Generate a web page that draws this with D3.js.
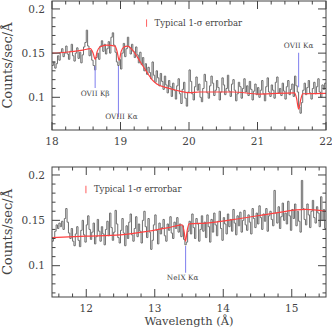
<!DOCTYPE html>
<meta charset="utf-8">
<style>
  body { margin: 0; background: #fff; }
  svg text { font-family: "DejaVu Serif", serif; fill: #444; }
  .frame { fill: none; stroke: #444; stroke-width: 1; }
  .tick { stroke: #444; stroke-width: 1; }
  .data { fill: none; stroke: #6e6e6e; stroke-width: 1; }
  .model { fill: none; stroke: #ff4040; stroke-width: 1.2; }
  .line-id { stroke: #8a8af0; stroke-width: 1.1; }
  .errbar { stroke: #ff6b6b; stroke-width: 1.1; }
</style>
<svg width="332" height="332"></svg>
<script src="https://d3js.org/d3.v7.min.js"></script>
<script>

// ---- top panel: 18-22 A, 0.02 A bins ----
var topStart = 18.0, topBin = 0.02;
var topCounts = [
  0.136, 0.140, 0.133, 0.138, 0.147, 0.142, 0.151, 0.155, 0.146, 0.150,
  0.158, 0.149, 0.143, 0.152, 0.160, 0.147, 0.141, 0.150, 0.156, 0.144,
  0.151, 0.139, 0.148, 0.157, 0.162, 0.176, 0.158, 0.147, 0.153, 0.142,
  0.136, 0.131, 0.145, 0.150, 0.143, 0.158, 0.164, 0.152, 0.160, 0.149,
  0.155, 0.163, 0.150, 0.168, 0.173, 0.159, 0.151, 0.140, 0.136, 0.143,
  0.132, 0.150, 0.161, 0.146, 0.155, 0.168, 0.157, 0.149, 0.160, 0.152,
  0.145, 0.157, 0.148, 0.139, 0.151, 0.137, 0.145, 0.130, 0.138, 0.126,
  0.134, 0.128, 0.121, 0.140, 0.125, 0.117, 0.130, 0.122, 0.113, 0.127,
  0.118, 0.109, 0.124, 0.114, 0.105, 0.119, 0.112, 0.101, 0.116, 0.108,
  0.098, 0.113, 0.121, 0.104, 0.093, 0.109, 0.117, 0.099, 0.090, 0.106,
  0.131, 0.118, 0.104, 0.097, 0.112, 0.123, 0.108, 0.115, 0.100, 0.095,
  0.110, 0.126, 0.118, 0.105, 0.099, 0.113, 0.124, 0.116, 0.102, 0.108,
  0.119, 0.111, 0.097, 0.106, 0.122, 0.114, 0.103, 0.110, 0.125, 0.107,
  0.101, 0.115, 0.120, 0.108, 0.096, 0.104, 0.117, 0.112, 0.099, 0.110,
  0.121, 0.106, 0.113, 0.102, 0.118, 0.109, 0.097, 0.107, 0.115, 0.103,
  0.111, 0.100, 0.108, 0.119, 0.104, 0.096, 0.112, 0.122, 0.106, 0.101,
  0.114, 0.108, 0.099, 0.117, 0.123, 0.105, 0.110, 0.102, 0.116, 0.107,
  0.098, 0.112, 0.119, 0.103, 0.109, 0.115, 0.101, 0.124, 0.113, 0.106,
  0.089, 0.082, 0.094, 0.108, 0.116, 0.103, 0.111, 0.119, 0.105, 0.098,
  0.110, 0.117, 0.104, 0.112, 0.121, 0.106, 0.100, 0.114, 0.109, 0.116
];
var topModelWave = [18.0, 18.2, 18.45, 18.56, 18.6, 18.63, 18.66, 18.7, 18.8, 18.92, 18.95, 18.98, 19.01, 19.05, 19.1, 19.19, 19.29, 19.38, 19.46, 19.53, 19.67, 19.81, 20.0, 20.15, 20.64, 21.03, 21.54, 21.57, 21.6, 21.63, 21.66, 22.0];
var topModelVal  = [0.150, 0.151, 0.1535, 0.155, 0.150, 0.143, 0.152, 0.157, 0.159, 0.158, 0.152, 0.142, 0.152, 0.157, 0.158, 0.152, 0.140, 0.129, 0.120, 0.115, 0.111, 0.108, 0.1052, 0.106, 0.106, 0.1037, 0.105, 0.099, 0.0865, 0.097, 0.104, 0.1045];

// ---- bottom panel: 11.5-15.5 A, 0.02 A bins ----
var botStart = 11.5, botBin = 0.02;
var botCounts = [
  0.127, 0.131, 0.138, 0.145, 0.141, 0.147, 0.143, 0.149, 0.140, 0.152,
  0.163, 0.148, 0.136, 0.130, 0.141, 0.127, 0.122, 0.135, 0.143, 0.128,
  0.121, 0.139, 0.150, 0.134, 0.126, 0.145, 0.155, 0.140, 0.129, 0.137,
  0.147, 0.124, 0.132, 0.151, 0.138, 0.127, 0.143, 0.135, 0.123, 0.140,
  0.149, 0.133, 0.158, 0.142, 0.128, 0.137, 0.161, 0.146, 0.131, 0.125,
  0.139, 0.152, 0.136, 0.122, 0.144, 0.130, 0.148, 0.157, 0.134, 0.127,
  0.141, 0.154, 0.132, 0.146, 0.138, 0.125, 0.150, 0.160, 0.143, 0.131,
  0.152, 0.137, 0.118, 0.128, 0.145, 0.156, 0.139, 0.124, 0.147, 0.135,
  0.142, 0.151, 0.133, 0.127, 0.146, 0.139, 0.154, 0.136, 0.130, 0.148,
  0.141, 0.153, 0.137, 0.146, 0.132, 0.144, 0.129, 0.123, 0.126, 0.138,
  0.149, 0.135, 0.157, 0.142, 0.130, 0.152, 0.146, 0.127, 0.140, 0.155,
  0.138, 0.148, 0.131, 0.156, 0.143, 0.126, 0.151, 0.137, 0.158, 0.145,
  0.133, 0.149, 0.160, 0.141, 0.128, 0.153, 0.146, 0.135, 0.157, 0.143,
  0.151, 0.138, 0.162, 0.147, 0.134, 0.155, 0.144, 0.159, 0.137, 0.150,
  0.161, 0.145, 0.139, 0.156, 0.148, 0.135, 0.163, 0.152, 0.142, 0.158,
  0.146, 0.166, 0.153, 0.140, 0.157, 0.149, 0.163, 0.138, 0.155, 0.160,
  0.151, 0.144, 0.183, 0.158, 0.147, 0.165, 0.141, 0.154, 0.169, 0.150,
  0.158, 0.146, 0.171, 0.155, 0.139, 0.162, 0.152, 0.168, 0.144, 0.160,
  0.149, 0.137, 0.194, 0.163, 0.151, 0.145, 0.168, 0.156, 0.142, 0.160,
  0.172, 0.153, 0.147, 0.165, 0.158, 0.143, 0.176, 0.150, 0.162, 0.141
];
var botModelWave = [11.5, 12.0, 12.5, 12.9, 13.2, 13.4, 13.43, 13.45, 13.47, 13.5, 13.75, 14.25, 14.75, 15.2, 15.5];
var botModelVal  = [0.131, 0.1325, 0.134, 0.138, 0.142, 0.145, 0.137, 0.127, 0.137, 0.146, 0.147, 0.152, 0.158, 0.162, 0.160];

// absorption line identifications
var topLines = ["OVII K\u03b2", "OVIII K\u03b1", "OVII K\u03b1"];
var topLineWave = [18.63, 18.97, 21.60];
var botLines = ["NeIX K\u03b1"];
var botLineWave = [13.45];

var xTicksTop = [18, 19, 20, 21, 22];
var xTicksBot = [12, 13, 14, 15];
var yTicks = [0.1, 0.15, 0.2];
var sigma = 0.0042; // half length of the typical errorbar

var svg = d3.select("svg");
var left = 52, right = 326;

function panel(opt) {
  var x = d3.scaleLinear().domain(opt.xdom).range([left, right]);
  var y = d3.scaleLinear().domain(opt.ydom).range([opt.bottom, opt.top]);
  var g = svg.append("g");
  var cid = "clip" + opt.id;

  g.append("clipPath").attr("id", cid)
    .append("rect").attr("x", left).attr("y", opt.top)
    .attr("width", right - left).attr("height", opt.bottom - opt.top);

  // histogram of the data
  var pts = opt.counts.map(function(v, i) { return [opt.start + i * opt.bin, v]; });
  pts.push([opt.start + opt.counts.length * opt.bin, opt.counts[opt.counts.length - 1]]);
  g.append("path")
      .attr("class", "data")
      .attr("clip-path", "url(#" + cid + ")")
      .attr("d", d3.line().curve(d3.curveStepAfter)
        .x(function(d) { return x(d[0]); })
        .y(function(d) { return y(d[1]); })(pts));

  // model
  g.append("path")
      .attr("class", "model")
      .attr("clip-path", "url(#" + cid + ")")
      .attr("d", d3.line().curve(d3.curveMonotoneX)
        .x(function(d) { return x(d); })
        .y(function(d, i) { return y(opt.modelVal[i]); })(opt.modelWave));

  // frame + ticks (inward, all four sides)
  g.append("rect").attr("class", "frame")
    .attr("x", left).attr("y", opt.top)
    .attr("width", right - left).attr("height", opt.bottom - opt.top);

  var xminor = d3.range(Math.ceil(opt.xdom[0] * 5), Math.floor(opt.xdom[1] * 5) + 1).map(function(d) { return d / 5; });
  xminor.forEach(function(t) {
    var major = Math.abs(t - Math.round(t)) < 1e-6;
    var len = major ? 8 : 3.5;
    g.append("line").attr("class", "tick")
      .attr("x1", x(t)).attr("x2", x(t)).attr("y1", opt.bottom).attr("y2", opt.bottom - len);
    g.append("line").attr("class", "tick")
      .attr("x1", x(t)).attr("x2", x(t)).attr("y1", opt.top).attr("y2", opt.top + len);
  });
  var yminor = d3.range(Math.ceil(opt.ydom[0] * 100), Math.floor(opt.ydom[1] * 100) + 1).map(function(d) { return d / 100; });
  yminor.forEach(function(t) {
    var major = Math.round(t * 100) % 5 === 0;
    var len = major ? 8 : 3.5;
    g.append("line").attr("class", "tick")
      .attr("x1", left).attr("x2", left + len).attr("y1", y(t)).attr("y2", y(t));
    g.append("line").attr("class", "tick")
      .attr("x1", right).attr("x2", right - len).attr("y1", y(t)).attr("y2", y(t));
  });

  g.selectAll(".xl").data(opt.xticks).enter().append("text")
      .attr("x", function(d) { return x(d); })
      .attr("y", opt.bottom + 15)
      .attr("text-anchor", "middle")
      .attr("font-size", 10.5)
      .text(function(d) { return d; });

  g.selectAll(".yl").data(yTicks).enter().append("text")
      .attr("x", 45)
      .attr("y", function(d) { return y(d) + 3.6; })
      .attr("text-anchor", "end")
      .attr("font-size", 10.5)
      .text(function(d) { return d; });

  g.append("text")
      .attr("transform", "translate(11.5," + ((opt.top + opt.bottom) / 2) + ") rotate(-90)")
      .attr("text-anchor", "middle")
      .attr("font-size", 13)
      .text("Counts/sec/\u00c5");

  // typical errorbar
  g.append("line").attr("class", "errbar")
    .attr("x1", x(opt.err[0])).attr("x2", x(opt.err[0]))
    .attr("y1", y(opt.err[1] - sigma)).attr("y2", y(opt.err[1] + sigma));
  g.append("text")
      .attr("x", x(opt.err[0]) + 8)
      .attr("y", y(opt.err[1]) + 3)
      .attr("font-size", 8.5)
      .text("Typical 1-\u03c3 errorbar");

  // line identifications
  opt.lines.forEach(function(name, i) {
    var a = opt.lineAnn[i];
    var lx = x(opt.lineWave[i]);
    g.append("line").attr("class", "line-id")
      .attr("x1", lx).attr("x2", lx).attr("y1", y(a[0])).attr("y2", y(a[1]));
    g.append("text")
        .attr("x", lx + a[3])
        .attr("y", y(a[2]))
        .attr("text-anchor", "middle")
        .attr("font-size", 7.3)
        .text(name);
  });
}

panel({
  id: "t", top: 1, bottom: 130, xdom: [18, 22], ydom: [0.063, 0.209],
  start: topStart, bin: topBin, counts: topCounts,
  modelWave: topModelWave, modelVal: topModelVal,
  xticks: xTicksTop, err: [19.38, 0.184],
  lines: topLines, lineWave: topLineWave,
  // [line top, line bottom, label baseline, label dx]
  lineAnn: [[0.1355, 0.1105, 0.1015, 0], [0.1355, 0.0775, 0.0755, 3], [0.1505, 0.1113, 0.1555, 0]]
});

panel({
  id: "b", top: 167, bottom: 297, xdom: [11.5, 15.5], ydom: [0.0655, 0.2088],
  start: botStart, bin: botBin, counts: botCounts,
  modelWave: botModelWave, modelVal: botModelVal,
  xticks: xTicksBot, err: [11.995, 0.184],
  lines: botLines, lineWave: botLineWave,
  lineAnn: [[0.1217, 0.0923, 0.0845, -3]]
});

svg.append("text")
    .attr("x", 189)
    .attr("y", 325)
    .attr("text-anchor", "middle")
    .attr("font-size", 11.5)
    .text("Wavelength (\u00c5)");

</script>
